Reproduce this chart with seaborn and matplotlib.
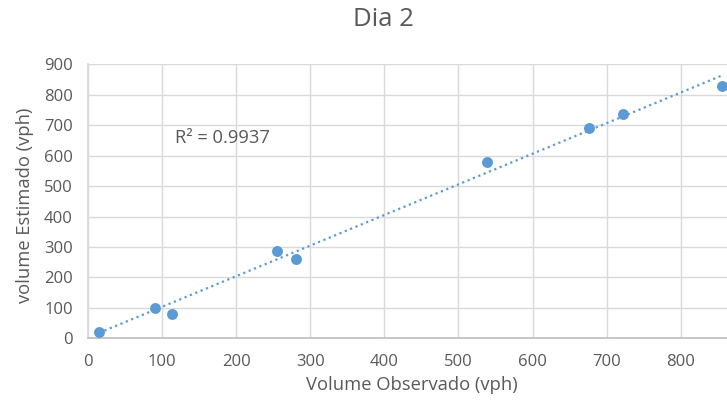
import numpy as np
import pandas as pd
import matplotlib
matplotlib.use("Agg")
import matplotlib.pyplot as plt
import seaborn as sns

# Observed vs. estimated hourly volumes, day 2
observado = [15, 90, 113, 255, 281, 538, 676, 722, 856]
estimado = [22, 100, 81, 288, 262, 579, 692, 737, 830]
x_ticks = [0, 100, 200, 300, 400, 500, 600, 700, 800]
y_ticks = [0, 100, 200, 300, 400, 500, 600, 700, 800, 900]
r2_label = "R² = 0.9937"

df = pd.DataFrame({"obs": observado, "est": estimado})

sns.set_theme(style="white")
plt.rcParams["font.family"] = ["Open Sans", "DejaVu Sans"]

blue = "#5B9BD5"
grey_text = "#595959"
grid_col = "#D9D9D9"

fig = plt.figure(figsize=(7.27, 4.05), dpi=100)
ax = fig.add_axes([88 / 727, (405 - 338.3) / 405, (727 - 88) / 727, (338.3 - 64.3) / 405])

# linear trendline over the observed range
slope, intercept = np.polyfit(df["obs"], df["est"], 1)
xs = np.array([df["obs"].min(), df["obs"].max()])
ax.plot(xs, slope * xs + intercept, color=blue, lw=1.6, ls=(0, (1, 1.6)),
        dash_capstyle="butt", zorder=2)

sns.scatterplot(data=df, x="obs", y="est", ax=ax, color=blue, s=62,
                edgecolor=blue, linewidth=0, zorder=3)

ax.set_xlim(0, 862.5)
ax.set_ylim(0, 900)
ax.set_xticks(x_ticks)
ax.set_yticks(y_ticks)
ax.grid(True, color=grid_col, lw=1)
ax.set_axisbelow(True)
ax.tick_params(axis="both", length=0, labelsize=12, labelcolor=grey_text)
ax.tick_params(axis="x", pad=11)
ax.tick_params(axis="y", pad=11)

for side in ["top", "right"]:
    ax.spines[side].set_visible(False)
ax.spines["left"].set_color(grid_col)
ax.spines["bottom"].set_color("#BFBFBF")

ax.set_xlabel("Volume Observado (vph)", fontsize=13.2, color=grey_text)
ax.set_ylabel("volume Estimado (vph)", fontsize=13.2, color=grey_text)
ax.xaxis.set_label_coords((412 - 88) / 639, (338.3 - 385) / 274)
ax.xaxis.label.set_va("center")
ax.yaxis.set_label_coords((25 - 88) / 639, (338.3 - 205) / 274)
ax.yaxis.label.set_va("center")

ax.text(117, 658, r2_label, fontsize=13.2, color=grey_text, va="center", ha="left")
fig.text(383 / 727, 1 - 20 / 405, "Dia 2", fontsize=18.5, color=grey_text, ha="center", va="center")

fig.savefig("out.png", dpi=100)
